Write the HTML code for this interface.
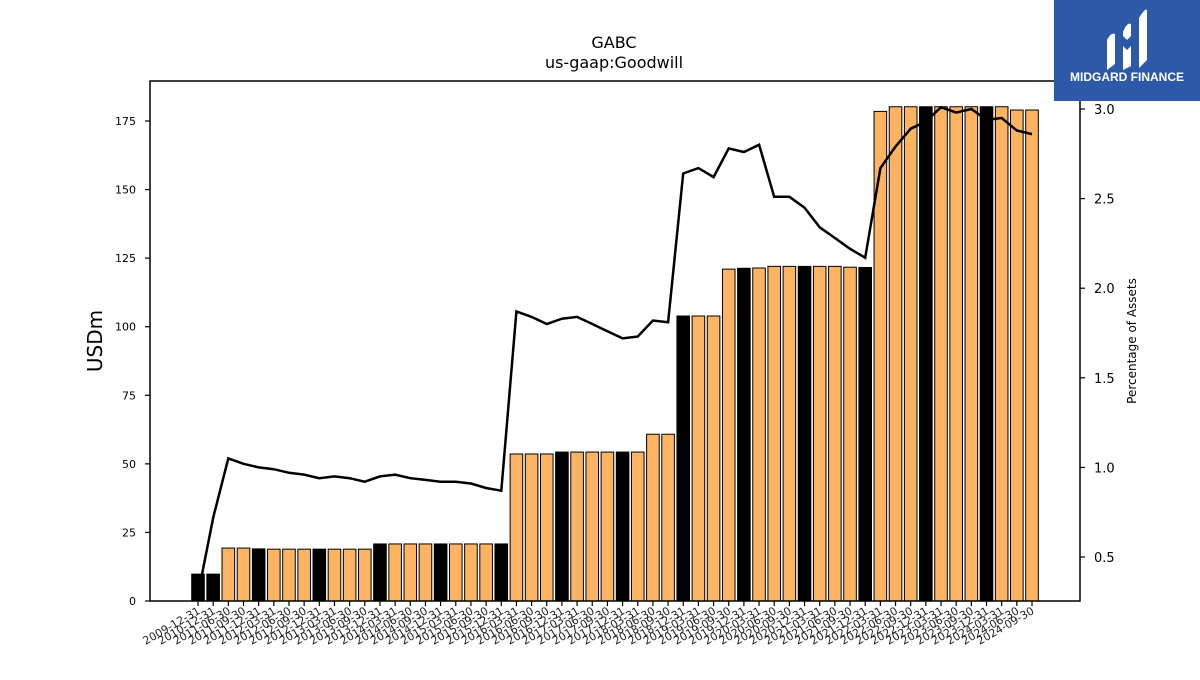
<!DOCTYPE html>
<html><head><meta charset="utf-8"><style>
body{margin:0;background:#fff;}
svg text{font-family:"DejaVu Sans","Liberation Sans",sans-serif;}
</style></head><body>
<svg id="c" width="1200" height="675" viewBox="0 0 1200 675" xmlns="http://www.w3.org/2000/svg">
<text x="614" y="48" font-size="16" text-anchor="middle">GABC</text>
<text x="614" y="68" font-size="16" text-anchor="middle">us-gaap:Goodwill</text>
<text transform="translate(102,341) rotate(-90)" font-size="20" text-anchor="middle">USDm</text>
<text transform="translate(1136,341) rotate(-90)" font-size="12" text-anchor="middle">Percentage of Assets</text>
<g id="bars"></g>
<g id="xt"></g>
<g id="yl"></g>
<g id="yr"></g>
<path id="line" fill="none" stroke="#000" stroke-width="2.5"/>
<rect x="150" y="81" width="930" height="520" fill="none" stroke="#000" stroke-width="1.5"/>
<g>
<rect x="1054" y="0" width="146" height="101" fill="#2c5aa9"/>
<path d="M1107,40 q4,-8 8,-6 v30 l-8,6 z M1123,32 q4,-10 8,-8 v12 l-4,4 l-4,-4 z M1123,46 l4,4 l4,-4 v20 l-8,4 z M1139,18 q6,-10 8,-8 v50 l-8,8 z" fill="#fff"/>
<text x="1127" y="81" font-size="12" font-weight="bold" fill="#fff" text-anchor="middle" style="font-family:'Liberation Sans',sans-serif">MIDGARD FINANCE</text>
</g>
</svg>
<script>
const dates=["2009-12-31","2010-12-31"];
const monthDays=["03-31","06-30","09-30","12-31"];
for(let k=0;k<54;k++){const y=2011+Math.floor((k+1)/4);const q=(k+1)%4;dates.push(y+"-"+monthDays[q]);}
const goodwill=[9.8,9.8,19.3,19.3,19.0,18.9,18.9,18.9,18.9,18.9,18.9,18.9,20.8,20.8,20.8,20.8,20.8,20.8,20.8,20.8,20.8,53.6,53.6,53.6,54.3,54.3,54.3,54.3,54.3,54.3,60.8,60.8,103.9,103.9,103.9,121.0,121.3,121.4,122.0,122.0,122.0,122.0,122.0,121.7,121.6,178.5,180.2,180.2,180.2,180.2,180.2,180.2,180.2,180.2,179.0,179.0];
const pct=[0.29,0.72,1.05,1.02,1.0,0.99,0.97,0.96,0.94,0.95,0.94,0.92,0.95,0.96,0.94,0.93,0.92,0.92,0.91,0.885,0.87,1.87,1.84,1.80,1.83,1.84,1.80,1.76,1.72,1.73,1.82,1.81,2.64,2.67,2.62,2.78,2.76,2.80,2.51,2.51,2.45,2.34,2.28,2.22,2.17,2.67,2.79,2.89,2.93,3.01,2.98,3.0,2.94,2.95,2.88,2.86];
const yTicks=[0,25,50,75,100,125,150,175];
const y2Ticks=[0.5,1.0,1.5,2.0,2.5,3.0];
const NS="http://www.w3.org/2000/svg";
const xs=i=>198+i*(1032-198)/(dates.length-1);
const ys=v=>601-v*(601-121)/175;
const y2=v=>557-(v-0.5)*(557-109)/2.5;
function mk(t,a,p){const e=document.createElementNS(NS,t);for(const k in a)e.setAttribute(k,a[k]);p.appendChild(e);return e;}
const bars=document.getElementById('bars'),xt=document.getElementById('xt'),yl=document.getElementById('yl'),yr=document.getElementById('yr');
goodwill.forEach((v,i)=>{
 const q4=dates[i].endsWith("12-31");
 const r=mk('rect',{x:xs(i)-6.3,y:ys(v),width:12.6,height:601-ys(v),fill:q4?'#000':'#fdb462',stroke:'#000','stroke-width':1},bars);
 
 
 const t=mk('line',{x1:xs(i),x2:xs(i),y1:601,y2:606,stroke:'#000','stroke-width':1.2},xt);
 
 
 const l=mk('text',{transform:`translate(${xs(i)+3},${613}) rotate(-30)`,'font-size':11,'text-anchor':'end',fill:'#222'},xt);
 l.textContent=dates[i];
 
 
});
yTicks.forEach(v=>{
 const t=mk('line',{x1:145,x2:150,y1:ys(v),y2:ys(v),stroke:'#000','stroke-width':1.2},yl);
 
 
 const l=mk('text',{x:136,y:ys(v)+4,'font-size':11,'text-anchor':'end'},yl);
 l.textContent=v;
 
 
});
y2Ticks.forEach(v=>{
 const t=mk('line',{x1:1080,x2:1085,y1:y2(v),y2:y2(v),stroke:'#000','stroke-width':1.2},yr);
 
 
 const l=mk('text',{x:1094,y:y2(v)+5,'font-size':13},yr);
 l.textContent=v.toFixed(1);
 
 
});
document.getElementById('line').setAttribute('d',pct.map((v,i)=>(i?'L':'M')+xs(i).toFixed(1)+','+y2(v).toFixed(1)).join(' '));
</script>
</body></html>
